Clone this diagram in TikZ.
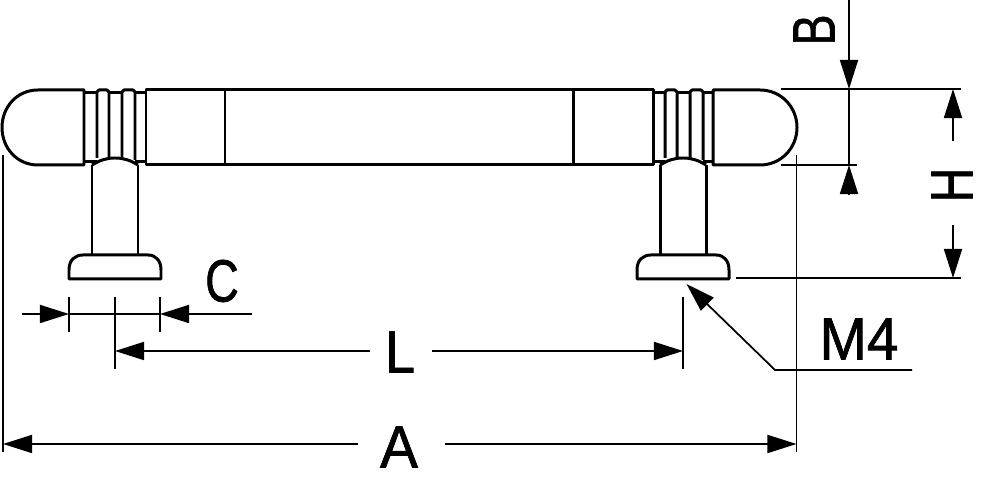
\documentclass[tikz,border=0pt]{standalone}
\usepackage{fontspec}
\setmainfont{Liberation Sans}[FakeBold=1.2]
\usetikzlibrary{arrows.meta}
\tikzset{
    part/.style={black, line width=0.85pt, line join=round},
    dim/.style={black, line width=0.5pt},
    tip/.style={-{Triangle[length=0.29cm, width=0.18cm]}},
    letter/.style={black, font=\fontsize{17}{17}\selectfont, inner sep=0pt}
}

\begin{document}
\begin{tikzpicture}[x=0.01cm, y=-0.01cm]
    \useasboundingbox (0,0) rectangle (1000,483);

    % end caps
    \draw[part] (84,90) -- (38,90) .. controls (17,90) and (2,107) .. (2,127.5)
        .. controls (2,148) and (17,165) .. (38,165) -- (84,165) -- cycle;
    \draw[part] (713,90) -- (760,90) .. controls (781,90) and (797,107) .. (797,127.5)
        .. controls (797,148) and (781,165) .. (760,165) -- (713,165) -- cycle;

    % long bar
    \draw[part] (146,90) rectangle (653,165);
    \draw[part] (225,90) -- (225,165);
    \draw[part] (573,90) -- (573,165);

    % rings, stem and foot, left then right
    \foreach \dx in {0,568} {
        \draw[part] (\dx+84,93) -- (\dx+97,93);
        \draw[part] (\dx+109,93) -- (\dx+122,93);
        \draw[part] (\dx+135,93) -- (\dx+146,93);
        \draw[part] (\dx+97,158) -- (\dx+97,92) -- (\dx+99,90) -- (\dx+107,90) -- (\dx+109,92) -- (\dx+109,158);
        \draw[part] (\dx+122,158) -- (\dx+122,92) -- (\dx+124,90) -- (\dx+133,90) -- (\dx+135,92) -- (\dx+135,160);
        \draw[part] (\dx+84,162) -- (\dx+97,162);
        \draw[part] (\dx+135,162) -- (\dx+146,162);
        \draw[part] (\dx+92,165) .. controls (\dx+100,160) and (\dx+107,158) .. (\dx+115,158)
            .. controls (\dx+123,158) and (\dx+130,160) .. (\dx+138,165);
        \draw[part] (\dx+92,165) -- (\dx+92,255);
        \draw[part] (\dx+138,165) -- (\dx+138,255);
        \draw[part] (\dx+69,279) -- (\dx+69,270) .. controls (\dx+69,260) and (\dx+75,255) .. (\dx+83,255)
            -- (\dx+148,255) .. controls (\dx+156,255) and (\dx+161,261) .. (\dx+161,270)
            -- (\dx+161,279) -- cycle;
    }

    % overall length
    \draw[dim] (3,155) -- (3,452);
    \draw[dim] (796.5,155) -- (796.5,452);
    \draw[dim, tip] (358,444) -- (3,444);
    \draw[dim, tip] (445,444) -- (796.5,444);

    % hole spacing
    \draw[dim] (115,297) -- (115,369);
    \draw[dim] (683,297) -- (683,369);
    \draw[dim, tip] (370,351) -- (115,351);
    \draw[dim, tip] (432,351) -- (683,351);

    % foot width
    \draw[dim] (69,297) -- (69,332);
    \draw[dim] (160,297) -- (160,332);
    \draw[dim] (69,314) -- (160,314);
    \draw[dim, tip] (22,314) -- (69,314);
    \draw[dim, tip] (252,314) -- (160,314);

    % bar height and total height
    \draw[dim] (781,89) -- (961,89);
    \draw[dim] (781,165) -- (857,165);
    \draw[dim] (736,278) -- (961,278);
    \draw[dim, tip] (849,0) -- (849,89);
    \draw[dim] (849,89) -- (849,165);
    \draw[dim, tip] (849,195) -- (849,165);
    \draw[dim, tip] (953,141) -- (953,89);
    \draw[dim, tip] (953,225) -- (953,278);

    % thread leader
    \draw[dim, tip] (912,370) -- (775,370) -- (686.5,284);

    \node[letter, xscale=0.95] (lblA) at (399,447) {A};
    \node[letter, xscale=0.9] (lblL) at (400,352) {L};
    \node[letter, xscale=0.78] (lblC) at (222,281) {C};
    \node[letter, xscale=0.95] (lblM) at (859,339) {M4};
    \node[letter, rotate=90, xscale=0.78] (lblB) at (814,30) {B};
    \node[letter, rotate=90, xscale=0.8] (lblH) at (952,185) {H};
\end{tikzpicture}
\end{document}
